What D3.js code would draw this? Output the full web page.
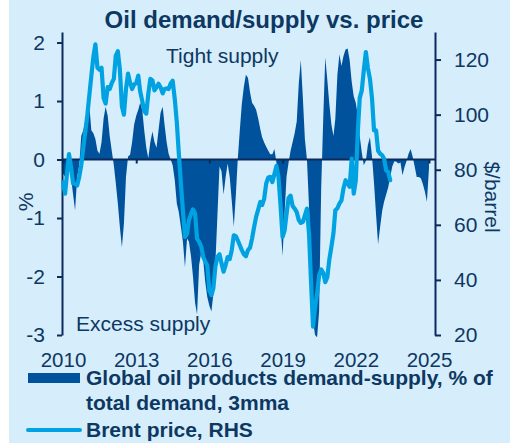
<!DOCTYPE html>
<html><head><meta charset="utf-8">
<script src="https://cdn.jsdelivr.net/npm/d3@7"></script>
<style>
body{margin:0;background:#fff;}
svg{display:block;font-family:"Liberation Sans",Arial,sans-serif;}
</style></head><body>
<svg id="c" width="510" height="443"></svg>
<script>
// ---- data ----
const startYear = 2010, startMonth = 0; // monthly series starting Jan 2010
// Global oil products demand-supply, % of total demand, 3mma (Jan 2010 .. Jan 2025)
const balance = [
 -0.24,-0.3,-0.25,-0.1,-0.3,-0.6,-0.87,-0.3,-0.1,0.4,0.5,0.65,
 0.9,0.9,0.5,0.45,0.35,0.15,0.1,0.3,0.7,0.9,0.75,0.4,
 0.15,-0.1,-0.4,-0.75,-1.15,-1.5,-1.1,-0.3,0.05,0.08,0.3,0.6,
 0.75,0.85,0.97,0.85,0.5,0.2,0.02,0.3,0.48,0.3,0.2,0.5,
 0.8,0.9,0.6,0.3,0.1,0.0,-0.1,-0.35,-0.75,-0.9,-1.15,-1.4,
 -1.84,-1.35,-1.4,-1.65,-2.0,-2.45,-2.65,-1.8,-1.6,-1.72,-2.1,-2.35,
 -2.5,-2.6,-2.3,-1.75,-0.95,-0.12,-0.2,-0.6,-0.3,-0.07,-0.3,-0.7,
 -1.15,-0.6,0.0,0.5,0.95,1.25,1.45,1.4,1.15,0.97,0.92,0.85,
 0.7,0.52,0.38,0.29,0.22,0.15,0.09,0.09,0.18,-0.05,-0.45,-1.1,
 -1.65,-0.9,-0.3,-0.05,0.15,0.3,0.45,0.65,1.3,1.7,1.05,0.35,
 0.0,-0.8,-1.9,-2.75,-3.0,-3.04,-2.6,-0.5,0.7,1.75,1.36,0.95,
 0.6,0.4,0.7,1.45,1.8,1.6,1.77,1.88,1.9,1.7,1.33,1.08,
 0.97,0.75,0.4,0.12,-0.1,-0.02,0.25,0.38,0.05,-0.4,-0.95,-1.45,
 -1.15,-0.87,-0.72,-0.6,-0.48,-0.3,-0.12,-0.03,-0.04,-0.07,-0.05,-0.27,
 -0.13,-0.02,0.1,0.18,0.05,-0.12,-0.3,-0.3,-0.32,-0.42,-0.55,-0.72,
 -0.15
];
// Brent price, $/barrel (Jan 2010 .. Jun 2023)
const brent = [
 75.4,71.3,78.4,85.7,81,75,74.9,74.3,77.4,81.6,88,94,
 100,107.4,114,121,125.5,117,116.3,117,106,104,110,109.3,
 111.5,113,121.3,123,116.5,103,100,109.3,114.9,111.6,109.3,111,
 111.4,114.2,108.5,105,101.3,100.4,107.6,113,112.4,108.8,110,111.2,
 109.9,107.7,109.3,109.5,109.3,111.3,112.3,105.7,97.2,85.8,75,65.3,
 55.6,56.8,61.7,63.9,65.6,64.2,55,53.8,52.1,48.4,46.6,45.3,
 36,34.5,37,44.9,48.4,49.3,46,43,45.4,48.3,47.6,50.8,
 56.2,55.9,54.4,52.6,50.8,49.3,48.6,50.8,51.7,55,59.2,62.9,
 65.5,68.3,67.2,69.5,75,77.2,77.4,75.5,78.4,81.4,77.4,67.3,
 55.6,58,63.8,69.7,70.6,66.8,65.9,64.6,61.7,60.7,61.1,63.4,
 65.9,56.8,40,23,30,35,41.7,43.8,42.6,39.2,41,47.4,
 52,57,65.3,66,67.7,68.9,73.2,76.2,75,73.8,84,71.3,
 76,94,106,108.8,116,122.7,117,113,106,94.3,94.3,86.9,
 85.8,85.2,84,79.8,79.2,76.2
];
const xTickYears = [2010, 2013, 2016, 2019, 2022, 2025];
const leftTicks = [-3, -2, -1, 0, 1, 2];
const rightTicks = [20, 40, 60, 80, 100, 120];
const titleText = "Oil demand/supply vs. price";
const legendBalance = ["Global oil products demand-supply, % of", "total demand, 3mma"];
const legendBrent = "Brent price, RHS";

// ---- style ----
const BG = "#d6edfc", DARK = "#00529c", LIGHT = "#00a2e1", AX = "#0c2a5c", TXT = "#0d3862";
const FONT = "Liberation Sans, Arial, sans-serif";

const svg = d3.select("#c");
svg.append("rect").attr("x", 9).attr("y", 0).attr("width", 501).attr("height", 443).attr("fill", BG);

const x = d3.scaleTime().domain([new Date(2010, 0, 1), new Date(2025, 3, 1)]).range([63, 435]);
const yL = d3.scaleLinear().domain([-3, 2.18]).range([335, 32]);
const yR = d3.scaleLinear().domain([20, 130]).range([335, 32]);
const dateOf = i => new Date(startYear, startMonth + i, 1);
const plain = d => String(d);

// area
const area = d3.area().x((d, i) => x(dateOf(i))).y0(yL(0)).y1(d => yL(d));
svg.append("path").datum(balance).attr("d", area).attr("fill", DARK);

// zero line + x ticks
const xAxis = d3.axisBottom(x)
  .tickValues(xTickYears.map(yr => new Date(yr, 0, 1)))
  .tickFormat(d3.timeFormat("%Y"))
  .tickSize(4).tickSizeOuter(0);
const gx = svg.append("g").attr("transform", `translate(0,${yL(0)})`).call(xAxis);
gx.select(".domain").remove();
gx.selectAll(".tick line").attr("stroke", AX).attr("stroke-width", 2);
gx.selectAll(".tick text").attr("y", 367 - yL(0)).attr("dy", null)
  .attr("fill", TXT).style("font-size", "20.5px").style("font-family", FONT);
svg.append("line").attr("x1", 63).attr("x2", 435).attr("y1", yL(0)).attr("y2", yL(0))
  .attr("stroke", AX).attr("stroke-width", 2.2);

// left axis
const gl = svg.append("g").attr("transform", "translate(62,0)")
  .call(d3.axisLeft(yL).tickValues(leftTicks).tickFormat(plain).tickSize(5).tickSizeOuter(0).tickPadding(12));
gl.select(".domain").attr("stroke", AX).attr("stroke-width", 2);
gl.selectAll(".tick line").attr("stroke", AX).attr("stroke-width", 2);
gl.selectAll(".tick text").attr("fill", TXT).style("font-size", "21px").style("font-family", FONT);

// right axis
const gr = svg.append("g").attr("transform", "translate(435,0)")
  .call(d3.axisRight(yR).tickValues(rightTicks).tickFormat(plain).tickSize(6).tickSizeOuter(0).tickPadding(13));
gr.select(".domain").attr("stroke", AX).attr("stroke-width", 2);
gr.selectAll(".tick line").attr("stroke", AX).attr("stroke-width", 2);
gr.selectAll(".tick text").attr("fill", TXT).style("font-size", "21px").style("font-family", FONT);

// brent line
const line = d3.line().x((d, i) => x(dateOf(i))).y(d => yR(d));
svg.append("path").datum(brent).attr("d", line).attr("fill", "none")
  .attr("stroke", LIGHT).attr("stroke-width", 4.2).attr("stroke-linejoin", "round").attr("stroke-linecap", "round");

// texts
const T = (s, xx, yy, opts = {}) => svg.append("text").attr("x", xx).attr("y", yy).text(s)
  .attr("fill", TXT).style("font-size", (opts.size || 21) + "px")
  .style("font-weight", opts.bold ? "bold" : "normal")
  .attr("text-anchor", opts.anchor || "start");
T(titleText, 264, 28, {bold: true, size: 24, anchor: "middle"});
T("Tight supply", 166, 63);
T("Excess supply", 76, 331);
svg.append("text").attr("transform", "translate(33,202) rotate(-90)").attr("text-anchor", "middle")
  .attr("fill", TXT).style("font-size", "21px").text("%");
svg.append("text").attr("transform", "translate(485,197) rotate(90)").attr("text-anchor", "middle")
  .attr("fill", TXT).style("font-size", "21px").text("$/barrel");

// legend
svg.append("rect").attr("x", 28).attr("y", 373).attr("width", 52).attr("height", 10).attr("fill", DARK);
T(legendBalance[0], 86, 385, {bold: true});
T(legendBalance[1], 86, 410, {bold: true});
svg.append("line").attr("x1", 28).attr("x2", 80).attr("y1", 430).attr("y2", 430)
  .attr("stroke", LIGHT).attr("stroke-width", 4).attr("stroke-linecap", "round");
T(legendBrent, 86, 437, {bold: true});
</script>
</body></html>
